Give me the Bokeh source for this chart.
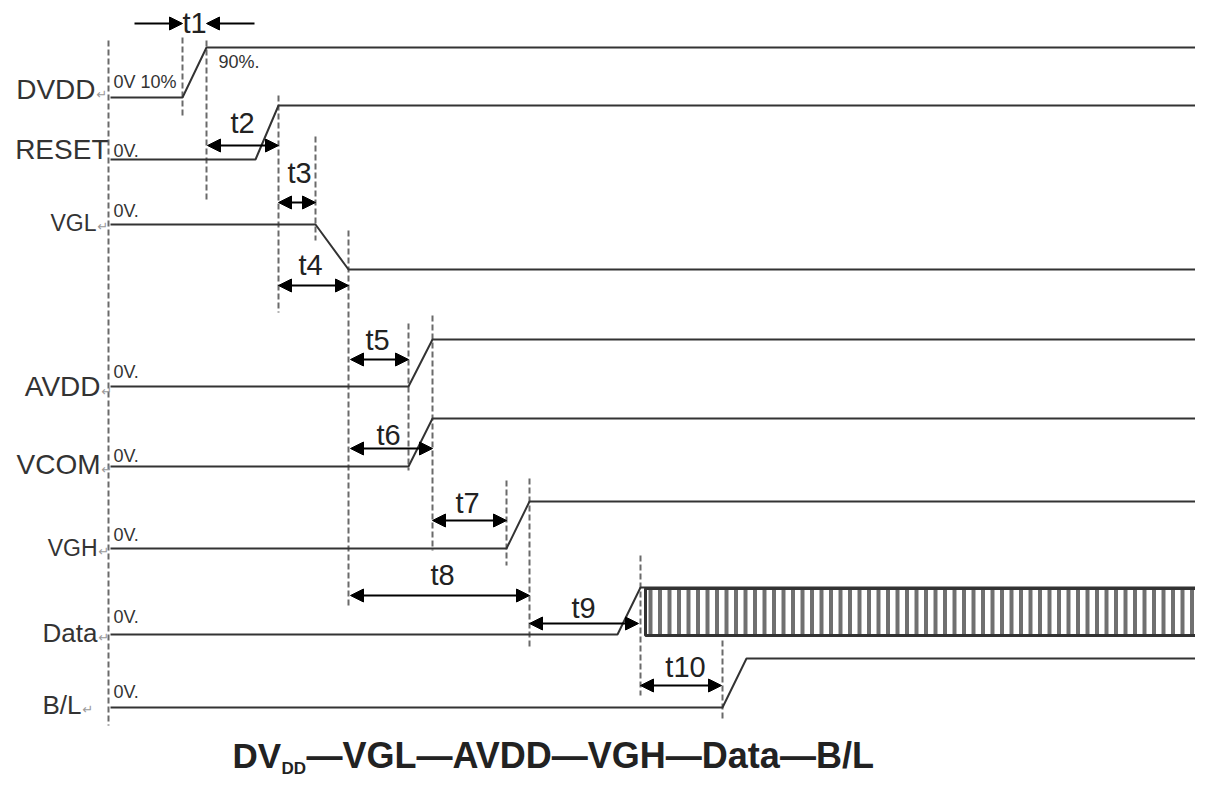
from bokeh.plotting import figure
from bokeh.models import Range1d, Arrow, NormalHead, ColumnDataSource
from bokeh.core.properties import value
from bokeh.embed import file_html
from bokeh.resources import INLINE
import numpy as np

# ---- signals (time axis in diagram units, level in diagram units) ----
signals = ["DVDD", "RESET", "VGL", "AVDD", "VCOM", "VGH", "Data", "B/L"]
level_start = [97, 159, 224, 386, 466, 548, 634, 707]
level_end = [47, 105, 269, 339, 418, 501, 587, 658]
edge_start = [182, 255, 315, 408, 408, 506, 617, 722]
edge_end = [206, 278, 348, 432, 432, 529, 640, 746]
t_origin = 110
t_stop = 1211

# signal name labels
label_right = [95, 108, 96, 100, 100, 97, 97, 81]
label_base = [99, 159, 231, 396, 474, 556, 642, 714]
label_size = [28, 28, 23, 28, 28, 23, 26, 26]
has_return = [True, False, True, True, True, True, True, True]

# 0V annotations
ov_text = ["0V 10%", "0V.", "0V.", "0V.", "0V.", "0V.", "0V.", "0V."]
ov_base = [88, 157, 217, 378, 462, 541, 623, 698]

# timing markers (dashed verticals)
marker_x = [108, 182, 206, 278, 315, 348, 408, 432, 506, 529, 640, 722]
marker_top = [40, 37, 40, 95, 136, 230, 323, 315, 480, 478, 555, 640]
marker_bottom = [725, 117, 200, 312, 240, 605, 470, 550, 565, 648, 695, 720]

# interval arrows
interval_names = ["t2", "t3", "t4", "t5", "t6", "t7", "t8", "t9", "t10"]
interval_from = [207, 278, 278, 350, 350, 432, 350, 529, 640]
interval_to = [278, 315, 348, 408, 432, 506, 529, 638, 721]
interval_y = [145, 202, 285, 359, 448, 520, 595, 623, 685]
interval_label_x = [242, 299, 310, 377, 388, 467, 442, 583, 685]
interval_label_base = [133, 183, 275, 350, 445, 513, 585, 618, 677]

# t1 (inward arrows)
t1_from, t1_to, t1_y, t1_outer = 182, 206, 23, 48

# data bus
bus_start, bus_end, bus_top, bus_bottom, bus_period = 645, 1208, 588, 635, 9.5

BL = 0.37  # renderer's baseline offset, fraction of font size


def base(y, size):
    return y - BL * size


W, H = 1195, 778
p = figure(width=W, height=H, x_range=Range1d(0, W), y_range=Range1d(H, 0),
           output_backend="svg", toolbar_location=None, min_border=0)
p.axis.visible = False
p.grid.visible = False
p.outline_line_color = None
p.background_fill_color = "white"

# dashed markers
p.segment(x0=marker_x, y0=marker_top, x1=marker_x, y1=marker_bottom,
          line_color="#6a6a6a", line_width=2, line_dash="6 3")

# signal waveforms
xs, ys = [], []
for i, s in enumerate(signals):
    if s == "Data":
        xs.append([t_origin, edge_start[i], edge_end[i], bus_end])
    else:
        xs.append([t_origin, edge_start[i], edge_end[i], t_stop])
    ys.append([level_start[i], level_start[i], level_end[i], level_end[i]])
p.multi_line(xs=xs, ys=ys, line_color="#333333", line_width=2)

# data bus stripes
sx = np.arange(bus_start + 3, bus_end - 3, bus_period)
p.quad(left=sx, right=sx + 4, top=bus_top, bottom=bus_bottom,
       fill_color="#707070", line_color=None)
p.quad(left=[bus_start], right=[bus_end], top=[bus_top], bottom=[bus_bottom],
       fill_color=None, line_color="#333333", line_width=3)

# interval arrows
for a, b, y in zip(interval_from, interval_to, interval_y):
    p.add_layout(Arrow(x_start=a, y_start=y, x_end=b, y_end=y, line_width=2, line_color="black",
                       start=NormalHead(size=13, fill_color="black", line_color="black"),
                       end=NormalHead(size=13, fill_color="black", line_color="black")))
p.add_layout(Arrow(x_start=t1_from - t1_outer, y_start=t1_y, x_end=t1_from, y_end=t1_y,
                   line_width=2, line_color="black",
                   end=NormalHead(size=13, fill_color="black", line_color="black")))
p.add_layout(Arrow(x_start=t1_to + t1_outer, y_start=t1_y, x_end=t1_to, y_end=t1_y,
                   line_width=2, line_color="black",
                   end=NormalHead(size=13, fill_color="black", line_color="black")))

# interval labels
p.text(x=interval_label_x + [(t1_from + t1_to) / 2],
       y=[base(y, 29) for y in interval_label_base + [33]],
       text=interval_names + ["t1"], text_font=value("Liberation Sans"),
       text_font_size=value("29px"), text_color="#222222",
       text_align="center", text_baseline="alphabetic")

# signal labels
src = ColumnDataSource(dict(x=label_right,
                            y=[base(y, s) for y, s in zip(label_base, label_size)],
                            text=signals, size=["%dpx" % s for s in label_size]))
p.text(x="x", y="y", text="text", text_font_size="size", source=src,
       text_font=value("Liberation Sans"), text_color="#333333",
       text_align="right", text_baseline="alphabetic")
rx = [x + 1 for x, r in zip(label_right, has_return) if r]
ry = [base(y, 13) for y, r in zip(label_base, has_return) if r]
p.text(x=rx, y=ry, text=["\u21b5"] * len(rx), text_font=value("DejaVu Sans"),
       text_font_size=value("13px"), text_color="#9a9a9a",
       text_align="left", text_baseline="alphabetic")

# 0V texts
p.text(x=[113] * len(ov_text), y=[base(y, 18) for y in ov_base], text=ov_text,
       text_font=value("Liberation Sans"),
       text_font_size=value("18px"), text_color="#333333",
       text_align="left", text_baseline="alphabetic")
p.text(x=[218], y=[base(68, 18)], text=["90%."], text_font=value("Liberation Sans"),
       text_font_size=value("18px"), text_color="#333333",
       text_align="left", text_baseline="alphabetic")

# title
p.text(x=[232], y=[base(768, 35)], text=["DV"], text_font=value("Liberation Sans"),
       text_font_style="bold", text_font_size=value("35px"), text_color="#222222",
       text_baseline="alphabetic")
p.text(x=[281], y=[base(774, 17)], text=["DD"], text_font=value("Liberation Sans"),
       text_font_style="bold", text_font_size=value("17px"), text_color="#222222",
       text_baseline="alphabetic")
p.text(x=[306], y=[base(768, 36)], text=["\u2014VGL\u2014AVDD\u2014VGH\u2014Data\u2014B/L"],
       text_font=value("Liberation Sans"), text_font_style="bold",
       text_font_size=value("36px"), text_color="#222222", text_baseline="alphabetic")

open("out.html", "w").write(file_html(p, INLINE))
